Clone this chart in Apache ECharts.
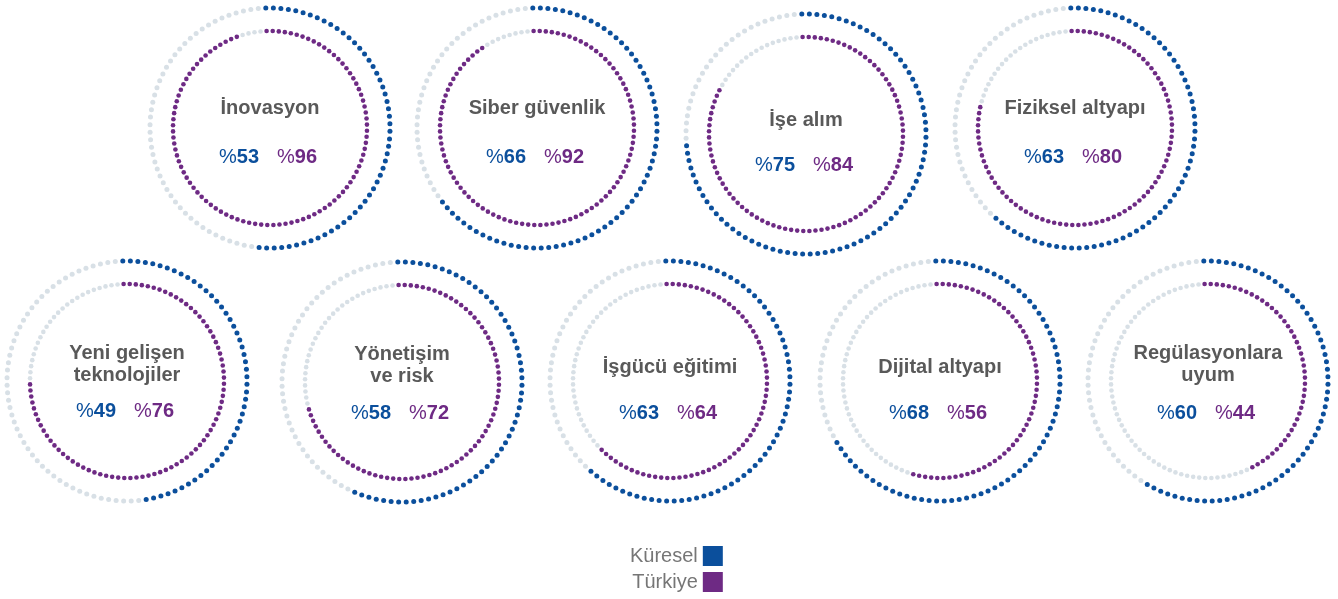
<!DOCTYPE html>
<html><head><meta charset="utf-8">
<script src="https://cdn.jsdelivr.net/npm/echarts@6/dist/echarts.min.js"></script>
<style>html,body{margin:0;padding:0;background:#fff}#c{width:1338px;height:599px}</style>
</head><body><div id="c"></div>
<script>
// ---- data ----
const categories = ['İnovasyon', 'Siber güvenlik', 'İşe alım', 'Fiziksel altyapı',
  'Yeni gelişen\nteknolojiler', 'Yönetişim\nve risk', 'İşgücü eğitimi', 'Dijital altyapı', 'Regülasyonlara\nuyum'];
const kuresel = [53, 66, 75, 63, 49, 58, 63, 68, 60];
const turkiye = [96, 92, 84, 80, 76, 72, 64, 56, 44];
const seriesNames = ['Küresel', 'Türkiye'];
const DOTS = 100;

// ---- layout / style ----
const BLUE = '#0b4f9c', PURPLE = '#6e2a84', GREY = '#d8e0e6', TEXT = '#595959';
const FONT = '"Liberation Sans", Arial, sans-serif';
const layout = [
  {cx: 270, cy: 128, ty: 108, vy: 157},
  {cx: 537, cy: 128, ty: 108, vy: 157},
  {cx: 806, cy: 134, ty: 120, vy: 165},
  {cx: 1075, cy: 128, ty: 108, vy: 157},
  {cx: 127, cy: 381, ty: 364, vy: 411},
  {cx: 402, cy: 382, ty: 365, vy: 413},
  {cx: 670, cy: 381, ty: 367, vy: 413},
  {cx: 940, cy: 381, ty: 367, vy: 413},
  {cx: 1208, cy: 381, ty: 364, vy: 413}
];
const R_OUT = 120, R_IN = 97;

const polar = [], angleAxis = [], radiusAxis = [], series = [], graphic = [];

function ring(idx, name, value, r, color, size) {
  const data = [];
  for (let k = 0; k < DOTS; k++) {
    data.push(k < value ? {value: [r, k]} : {value: [r, k], itemStyle: {color: GREY}});
  }
  return {
    type: 'scatter', coordinateSystem: 'polar', polarIndex: idx, name: name,
    symbol: 'circle', symbolSize: size, silent: true, animation: false,
    itemStyle: {color: color, opacity: 1}, data: data
  };
}

categories.forEach((cat, i) => {
  const L = layout[i];
  polar.push({center: [L.cx, L.cy], radius: [0, R_OUT]});
  angleAxis.push({polarIndex: i, type: 'value', min: 0, max: DOTS, startAngle: 92, clockwise: true, show: false});
  radiusAxis.push({polarIndex: i, type: 'value', min: 0, max: R_OUT, show: false});
  series.push(ring(i, seriesNames[0], kuresel[i], R_OUT, BLUE, 5));
  series.push(ring(i, seriesNames[1], turkiye[i], R_IN, PURPLE, 4.6));
  graphic.push({
    type: 'text', x: L.cx, y: L.ty, silent: true,
    style: {text: cat, align: 'center', verticalAlign: 'middle', fill: TEXT,
      fontFamily: FONT, fontWeight: 'bold', fontSize: 20, lineHeight: 22}
  });
  graphic.push({
    type: 'text', x: L.cx - 2, y: L.vy, silent: true,
    style: {
      text: '{p1|%}{v1|' + kuresel[i] + '}{sp| }{p2|%}{v2|' + turkiye[i] + '}',
      align: 'center', verticalAlign: 'middle',
      rich: {
        p1: {fill: BLUE, fontFamily: FONT, fontSize: 20, fontWeight: 'normal'},
        v1: {fill: BLUE, fontFamily: FONT, fontSize: 20, fontWeight: 'bold'},
        sp: {width: 18, fontSize: 20},
        p2: {fill: PURPLE, fontFamily: FONT, fontSize: 20, fontWeight: 'normal'},
        v2: {fill: PURPLE, fontFamily: FONT, fontSize: 20, fontWeight: 'bold'}
      }
    }
  });
});

const chart = echarts.init(document.getElementById('c'), null, {renderer: 'canvas'});
chart.setOption({
  animation: false,
  backgroundColor: '#ffffff',
  polar: polar, angleAxis: angleAxis, radiusAxis: radiusAxis,
  legend: {
    data: seriesNames, orient: 'vertical', left: 630, top: 546, align: 'right',
    icon: 'rect', itemWidth: 20, itemHeight: 20, itemGap: 6, padding: 0, selectedMode: false,
    textStyle: {fontSize: 20, color: '#767676', fontFamily: FONT}
  },
  series: series,
  graphic: graphic
});
</script></body></html>
